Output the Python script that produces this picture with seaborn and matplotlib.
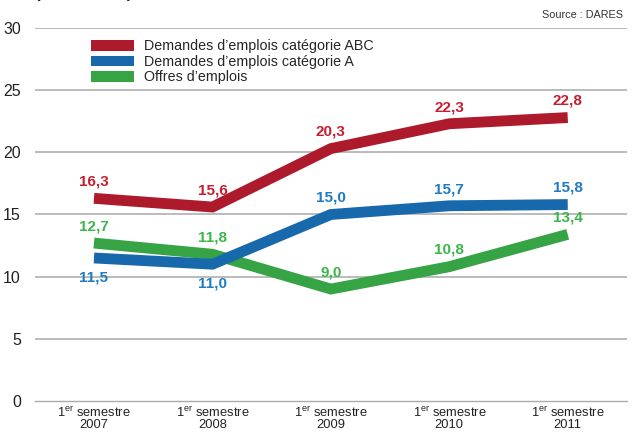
import pandas as pd
import matplotlib
matplotlib.use("Agg")
import matplotlib.pyplot as plt
from matplotlib.patches import Patch
import seaborn as sns

# Data (millions)
periodes = ["1$^{\\mathrm{er}}$ semestre\n2007", "1$^{\\mathrm{er}}$ semestre\n2008",
            "1$^{\\mathrm{er}}$ semestre\n2009", "1$^{\\mathrm{er}}$ semestre\n2010",
            "1$^{\\mathrm{er}}$ semestre\n2011"]
demandes_abc = [16.3, 15.6, 20.3, 22.3, 22.8]
demandes_a = [11.5, 11.0, 15.0, 15.7, 15.8]
offres = [12.7, 11.8, 9.0, 10.8, 13.4]

series_names = ["Demandes d\u2019emplois catégorie ABC",
                "Demandes d\u2019emplois catégorie A",
                "Offres d\u2019emplois"]
line_colors = ["#ad1a2b", "#1769ab", "#36a444"]
text_colors = ["#c41e30", "#1f7cc2", "#3cb54a"]
# label above (+1) or below (-1) each point
label_side = [[1, 1, 1, 1, 1],
              [-1, -1, 1, 1, 1],
              [1, 1, 1, 1, 1]]

sns.set_theme(style="white")
plt.rcParams['font.family'] = ['Liberation Sans', 'DejaVu Sans']
plt.rcParams['mathtext.fontset'] = 'custom'
plt.rcParams['mathtext.rm'] = 'Liberation Sans'

rows = []
for name, vals in zip(series_names, [demandes_abc, demandes_a, offres]):
    for i, v in enumerate(vals):
        rows.append({"x": i, "valeur": v, "serie": name})
df = pd.DataFrame(rows)

fig = plt.figure(figsize=(6.32, 4.32), dpi=100)
ax = fig.add_axes([0.055, 0.072, 0.937, 0.863])

# draw in reverse so red ends on top, green under blue
for name, col in reversed(list(zip(series_names, line_colors))):
    sns.lineplot(data=df[df["serie"] == name], x="x", y="valeur", color=col,
                 linewidth=7.8, ax=ax, solid_capstyle="butt",
                 solid_joinstyle="miter", legend=False, zorder=3)

for vals, tcol, sides in zip([demandes_abc, demandes_a, offres], text_colors, label_side):
    for i, v in enumerate(vals):
        s = sides[i]
        ax.annotate(f"{v:.1f}".replace(".", ","), (i, v),
                    xytext=(0, 7 if s > 0 else -9), textcoords="offset points",
                    ha="center", va="bottom" if s > 0 else "top",
                    color=tcol, fontsize=11, fontweight="bold", zorder=5)

ax.set_xlim(-0.5, 4.5)
ax.set_ylim(0, 30)
ax.set_yticks([0, 5, 10, 15, 20, 25, 30])
ax.set_yticklabels(["0", "5", "10", "15", "20", "25", "30"], fontsize=11.5, color="#222222")
ax.set_xticks(range(5))
ax.set_xticklabels(periodes, fontsize=9.3, color="#222222", linespacing=0.95)
ax.set_xticks([-0.5, 0.5, 1.5, 2.5, 3.5, 4.5], minor=True)
ax.tick_params(axis="x", which="major", length=0, pad=3)
ax.tick_params(axis="x", which="minor", length=5, direction="in", color="#aaaaaa", width=1)
ax.tick_params(axis="y", length=0, pad=10)
ax.set_xlabel("")
ax.set_ylabel("")

for y in [5, 10, 15, 20, 25, 30]:
    ax.axhline(y, color="#b5b5b5", linewidth=1.3, zorder=1)
for side in ["top", "right", "left"]:
    ax.spines[side].set_visible(False)
ax.spines["bottom"].set_color("#aaaaaa")
ax.spines["bottom"].set_linewidth(1)

handles = [Patch(facecolor=c, edgecolor="none") for c in line_colors]
ax.legend(handles, series_names, loc="upper left", bbox_to_anchor=(0.085, 0.985),
          frameon=False, fontsize=10.3, handlelength=3.0, handleheight=0.75,
          labelspacing=0.1, handletextpad=0.7, borderaxespad=0)

fig.text(0.985, 0.965, "Source : DARES", ha="right", va="center", fontsize=7.8, color="#333333")
fig.text(0.055, 1.004, "(en millions)", ha="left", va="baseline", fontsize=12,
         fontweight="bold", color="#222222")

fig.savefig("out.png", dpi=100)
